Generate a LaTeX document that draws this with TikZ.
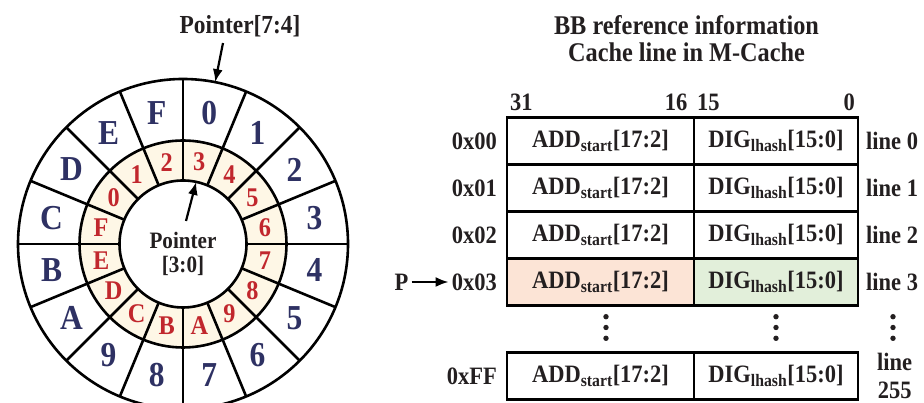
\documentclass[tikz,border=0pt]{standalone}
\usepackage{fontspec}
\setmainfont{Liberation Serif}[FakeStretch=0.9]
\usetikzlibrary{matrix, positioning, arrows.meta}

\definecolor{ink}{HTML}{231F20}
\definecolor{navy}{HTML}{2E3163}
\definecolor{hexred}{HTML}{C1272D}
\definecolor{ringfill}{HTML}{FEF7E6}
\definecolor{addfill}{HTML}{FCE4D6}
\definecolor{digfill}{HTML}{E2EFDA}

\tikzset{
  txt/.style={font=\fontsize{25}{27.4}\selectfont\bfseries, text=ink, inner sep=3pt},
  cell/.style={draw, line width=2.2pt, minimum height=47pt, outer sep=0pt,
    inner sep=0pt, font=\fontsize{25}{27.4}\selectfont\bfseries, text=ink},
  gap/.style={draw=none, minimum height=49.2pt},
  ptr/.style={line width=2.2pt, -{Latex[length=13pt,width=10pt]}},
  outlbl/.style={font=\fontsize{35}{35}\selectfont\bfseries, text=navy},
  inlbl/.style={font=\fontsize{27}{27}\selectfont\bfseries, text=hexred},
}

\begin{document}
\begin{tikzpicture}[x=1pt, y=1pt]
\useasboundingbox (0,0) rectangle (924,403);

% two-level pointer ring
\begin{scope}[shift={(183,159)}, line width=2.6pt]
  \fill[ringfill] (0,0) circle (103.5);
  \fill[white] (0,0) circle (63.5);
  \draw (0,0) circle (165) (0,0) circle (103.5) (0,0) circle (63.5);
  \foreach \a in {0,22.5,...,337.5}
    \draw (\a:63.5) -- (\a:165);
  \foreach \t [count=\k from 0] in {0,1,2,3,4,5,6,7,8,9,A,B,C,D,E,F}{
    \node[outlbl] (o\t) at ({78.75-22.5*\k}:134) {\t};
    \node[inlbl] (i\t) at ({146.25-22.5*\k}:83.5) {\t};}
  \coordinate (t74) at (78.75:165);
  \coordinate (t30) at (78:63.5);
  \node[txt, font=\fontsize{26}{28}\selectfont\bfseries] (p74) at (57,218) {Pointer[7:4]};
  \node[txt, font=\fontsize{23.5}{24}\selectfont\bfseries, align=center] (p30) at (0,-10) {Pointer\\{[3:0]}};
  \draw[ptr] ([xshift=-17pt,yshift=-2pt]p74.south) -- (t74);
  \draw[ptr] ([xshift=3pt,yshift=7pt]p30.north) -- (t30);
\end{scope}

% cache lines
\node[txt, font=\fontsize{27}{27.4}\selectfont\bfseries, align=center] (ttl) at (686.5,364.5)
    {BB reference information\\Cache line in M-Cache};
\matrix (A) [matrix of nodes, anchor=north west, inner sep=0pt, outer sep=0pt,
    row sep=-2.2pt, column sep=-2.2pt, nodes={cell},
    column 1/.style={nodes={minimum width=187pt}},
    column 2/.style={nodes={minimum width=164pt}}]
    at (505.9,286.6) {
    ADD\textsubscript{start}[17:2] & DIG\textsubscript{lhash}[15:0]\\
    ADD\textsubscript{start}[17:2] & DIG\textsubscript{lhash}[15:0]\\
    ADD\textsubscript{start}[17:2] & DIG\textsubscript{lhash}[15:0]\\
    |[fill=addfill]| ADD\textsubscript{start}[17:2] & |[fill=digfill]| DIG\textsubscript{lhash}[15:0]\\
    |[gap]|~ & |[gap]|~\\
    ADD\textsubscript{start}[17:2] & DIG\textsubscript{lhash}[15:0]\\};
\foreach \r/\lbl in {1/0x00,2/0x01,3/0x02,4/0x03,6/0xFF}
    \node[txt, left=7pt of A-\r-1] (r\r) {\lbl};
\foreach \r/\lbl in {1/line 0,2/line 1,3/line 2,4/line 3}
    \node[txt, right=5pt of A-\r-2] (l\r) {\lbl};
\node[txt, align=center, right=16pt of A-6-2] (l6) {line\\255};
\node[txt, above right=4pt and 0pt of A-1-1.north west] (b31) {31};
\node[txt, above left=4pt and 3.5pt of A-1-1.north east] (b16) {16};
\node[txt, above right=4pt and 0pt of A-1-2.north west] (b15) {15};
\node[txt, above left=4pt and 0pt of A-1-2.north east] (b0) {0};
\node[txt, left=37pt of r4] (pp) {P};
\draw[ptr] (pp) -- (r4);
\foreach \x in {606,776,893}
    \foreach \y in {86.3,75.5,64.7}
        \fill[ink] (\x,\y) circle (2.7);
\end{tikzpicture}
\end{document}
